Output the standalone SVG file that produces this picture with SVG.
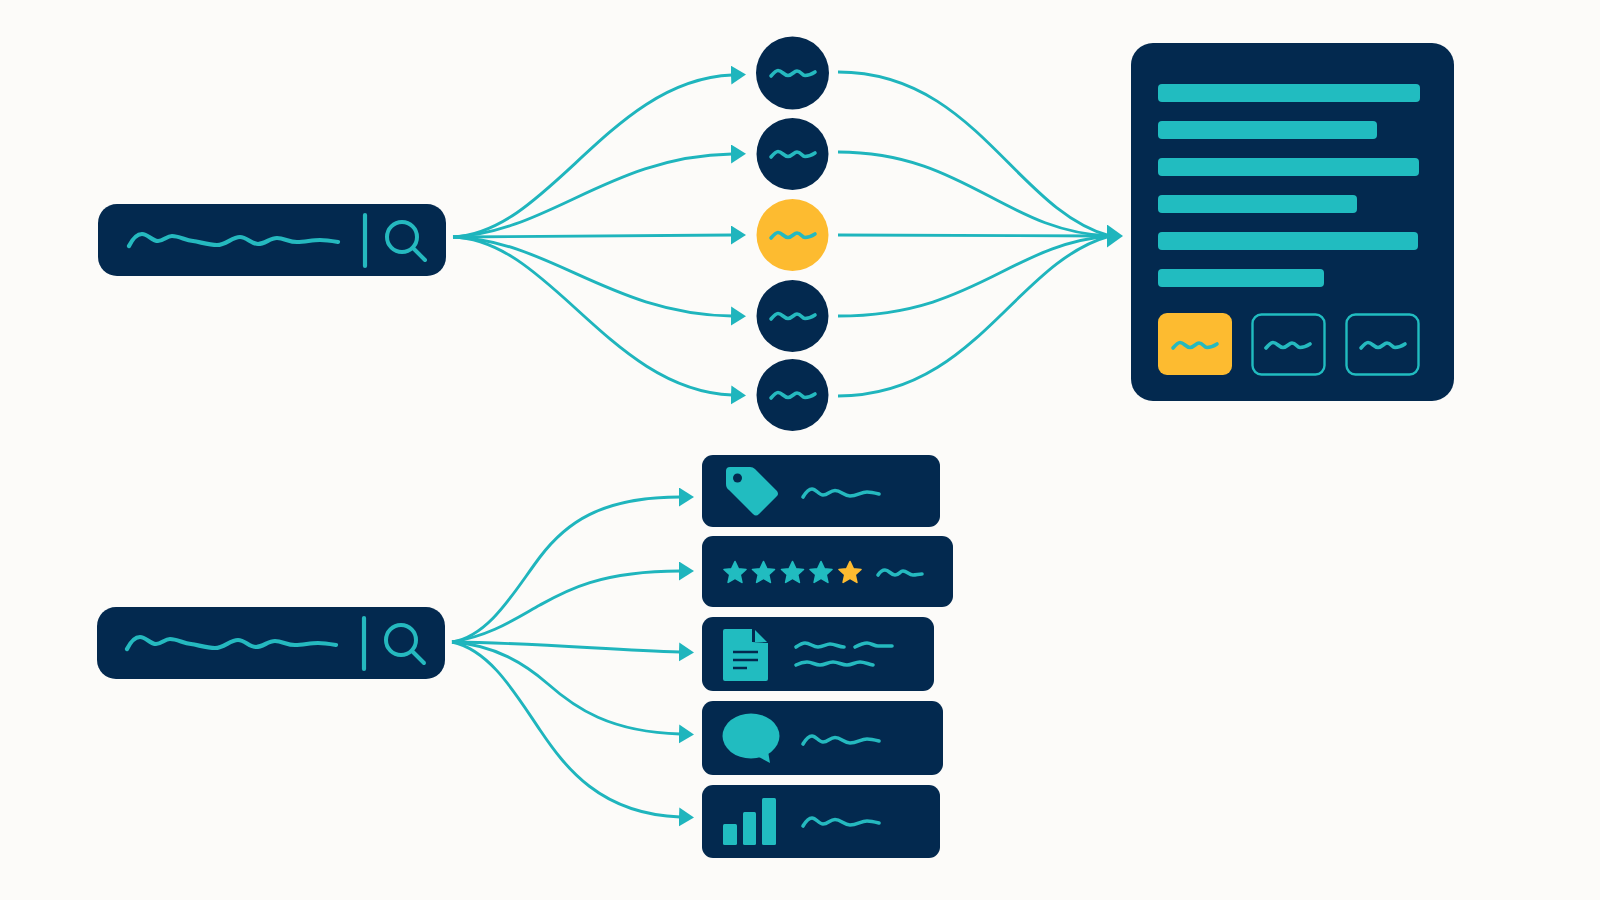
<svg xmlns="http://www.w3.org/2000/svg" width="1600" height="900" viewBox="0 0 1600 900">
<style>
.n{fill:#03294f}.t{fill:#21bcc0}.y{fill:#fdbb30}
.st{stroke-width:1.600;stroke-linejoin:round}
.c{fill:none;stroke:#1fb5bd;stroke-width:2.900}
.w{fill:none;stroke:#25b9bf;stroke-width:3.600;stroke-linecap:round;stroke-linejoin:round}
.w4{fill:none;stroke:#25b9bf;stroke-width:4.200;stroke-linecap:round;stroke-linejoin:round}
.o{fill:none;stroke:#21bcc0;stroke-width:2.400}
</style>
<defs>
<marker id="a" markerUnits="userSpaceOnUse" markerWidth="17" markerHeight="20" refX="1" refY="9.500" orient="auto"><path d="M0 0L15 9.500L0 19Z" fill="#1fb5bd"/></marker>
<marker id="b" markerUnits="userSpaceOnUse" markerWidth="18" markerHeight="24" refX="1" refY="11.500" orient="auto"><path d="M0 0L16 11.500L0 23Z" fill="#1fb5bd"/></marker>
<path id="sw" d="M-21 3C-18 -0.500 -16 -2.500 -14 -2.500C-10 -2.500 -8 2.500 -4 2.500C0 2.500 2 -2 5 -2C9 -2 10 2.500 13 2.500C17 2.500 20 1 23 -1"/>
<path id="lw" d="M129 246C133 238 137 234 142 234C148 234 152 241 158 241C163 241 167 236 172 236C179 236 185 240 193 241C200 242 209 245 217 245C226 245 232 237 240 237C247 237 251 244 258 244C265 244 270 238 277 238C284 238 289 242 297 242C305 242 312 240 320 240C326 240 332 241 338 242"/>
<path id="bar" d="M0 7C3 2 6 -1 9 -1C13 -1 16 5 20 5C25 5 27 0.500 32 0.500C38 0.500 41 6 47 6C54 6 58 2 64 2C68 2 72 3 76 4"/>
<path id="star" d="M0 -11.500L3.300 -4.300L11 -3.500L5.200 1.700L6.900 9.400L0 5.400L-6.900 9.400L-5.200 1.700L-11 -3.500L-3.300 -4.300Z"/>
<g id="mag"><circle cx="0" cy="0" r="15" fill="none" stroke="#25b9bf" stroke-width="4"/><path d="M11 11L23 23" fill="none" stroke="#25b9bf" stroke-width="4" stroke-linecap="round"/></g>
</defs>
<rect width="1600" height="900" fill="#fcfbf9"/>
<g id="connectors">
<path class="c" marker-end="url(#a)" d="M453 237C550 232 610 80 732 75"/>
<path class="c" marker-end="url(#a)" d="M453 237C550 232 610 156 732 154"/>
<path class="c" marker-end="url(#a)" d="M453 237C560 236 650 235 732 235"/>
<path class="c" marker-end="url(#a)" d="M453 237C550 240 610 314 732 316"/>
<path class="c" marker-end="url(#a)" d="M453 237C550 240 610 390 732 395"/>
<path class="c" d="M838 72C975 72 1015 210 1110 236"/>
<path class="c" d="M838 152C965 152 1005 232 1110 236"/>
<path class="c" marker-end="url(#b)" d="M838 235C940 235 1030 236 1108 236"/>
<path class="c" d="M838 316C975 316 1010 244 1110 236"/>
<path class="c" d="M838 396C975 396 1015 262 1110 236"/>
<path class="c" marker-end="url(#a)" d="M452 642C490 636 515 590 540 557C565 524 600 497 680 497"/>
<path class="c" marker-end="url(#a)" d="M452 642C490 636 515 619 540 605C565 591 600 571 680 571"/>
<path class="c" marker-end="url(#a)" d="M452 642C540 643 610 650 680 652"/>
<path class="c" marker-end="url(#a)" d="M452 642C495 645 525 664 548 684C575 708 610 732 680 734"/>
<path class="c" marker-end="url(#a)" d="M452 642C490 650 515 693 540 730C565 767 600 814 680 817"/>
</g>
<g id="search-top">
<rect class="n" x="98" y="204" width="348" height="72" rx="19"/>
<use href="#lw" class="w4"/>
<path d="M365 215V266" class="w4"/>
<use href="#mag" x="402" y="237"/>
</g>
<g id="search-bottom">
<rect class="n" x="97" y="607" width="348" height="72" rx="19"/>
<use href="#lw" class="w4" transform="translate(-2 403)"/>
<path d="M364 618V669" class="w4"/>
<use href="#mag" x="401" y="640"/>
</g>
<g id="circle-1"><circle class="n" cx="792.500" cy="73" r="36.500"/><use href="#sw" x="792" y="73" class="w"/></g>
<g id="circle-2"><circle class="n" cx="792.500" cy="154" r="36"/><use href="#sw" x="792" y="154" class="w"/></g>
<g id="circle-3"><circle class="y" cx="792.500" cy="235" r="36"/><use href="#sw" x="792" y="235" class="w"/></g>
<g id="circle-4"><circle class="n" cx="792.500" cy="316" r="36"/><use href="#sw" x="792" y="316" class="w"/></g>
<g id="circle-5"><circle class="n" cx="792.500" cy="395" r="36"/><use href="#sw" x="792" y="395" class="w"/></g>
<g id="panel">
<rect class="n" x="1131" y="43" width="323" height="358" rx="22"/>
<rect class="t" x="1158" y="84" width="262" height="18" rx="4"/>
<rect class="t" x="1158" y="121" width="219" height="18" rx="4"/>
<rect class="t" x="1158" y="158" width="261" height="18" rx="4"/>
<rect class="t" x="1158" y="195" width="199" height="18" rx="4"/>
<rect class="t" x="1158" y="232" width="260" height="18" rx="4"/>
<rect class="t" x="1158" y="269" width="166" height="18" rx="4"/>
<rect class="y" x="1158" y="313" width="74" height="62" rx="9"/>
<rect class="o" x="1252.500" y="314.500" width="72" height="60" rx="9"/>
<rect class="o" x="1346.500" y="314.500" width="72" height="60" rx="9"/>
<use href="#sw" x="1194" y="345" class="w"/>
<use href="#sw" x="1287" y="345" class="w"/>
<use href="#sw" x="1382" y="345" class="w"/>
</g>
<g id="card-tag">
<rect class="n" x="702" y="455" width="238" height="72" rx="11"/>
<path class="t" d="M730 467H750Q753 467 755 469L777 491Q779 494 777 496L759 514Q756 517 753 514L729 490Q726 488 726 484V471Q726 467 730 467Z"/>
<circle class="n" cx="737.500" cy="478" r="4.500"/>
<use href="#bar" x="803" y="490" class="w"/>
</g>
<g id="card-rating">
<rect class="n" x="702" y="536" width="251" height="71" rx="11"/>
<g stroke="#21bcc0" class="st"><use href="#star" x="735" y="573" class="t"/><use href="#star" x="763.500" y="573" class="t"/><use href="#star" x="792.500" y="573" class="t"/><use href="#star" x="821" y="573" class="t"/></g>
<use href="#star" x="850" y="573" class="y st" stroke="#fdbb30"/>
<path class="w" d="M878 575C880 572 882 570 885 570C889 570 891 575 895 575C899 575 900 571 903 571C907 571 909 575 913 575C916 575 919 574 922 574"/>
</g>
<g id="card-doc">
<rect class="n" x="702" y="617" width="232" height="74" rx="11"/>
<path class="t" d="M725 629H752V642L768 643V679Q768 681 766 681H725Q723 681 723 679V631Q723 629 725 629Z"/>
<path class="t" d="M755 630L767 642H755Z"/>
<path d="M733 652H758M733 660H758M733 668H747" stroke="#03294f" stroke-width="2.600" fill="none"/>
<path class="w" d="M796 647C799 645 802 643 805 643C810 643 813 647 818 647C823 647 826 644 830 644C835 644 839 647 844 647M855 647C859 645 863 643 867 643C871 643 874 646 878 646C883 646 888 646 892 646"/>
<path class="w" d="M796 665C800 663 803 662 807 662C812 662 815 665 820 665C825 665 828 662 833 662C838 662 842 665 847 665C852 665 855 662 860 662C864 662 868 664 873 665"/>
</g>
<g id="card-comment">
<rect class="n" x="702" y="701" width="241" height="74" rx="11"/>
<ellipse class="t" cx="751" cy="736" rx="28.500" ry="22.500"/>
<path class="t" d="M757 756L768 751L770 763Z"/>
<use href="#bar" x="803" y="737" class="w"/>
</g>
<g id="card-bars">
<rect class="n" x="702" y="785" width="238" height="73" rx="11"/>
<rect class="t" x="723" y="824" width="14" height="21" rx="1.500"/>
<rect class="t" x="743" y="812" width="13" height="33" rx="1.500"/>
<rect class="t" x="762" y="798" width="14" height="47" rx="1.500"/>
<use href="#bar" x="803" y="819" class="w"/>
</g>
</svg>
